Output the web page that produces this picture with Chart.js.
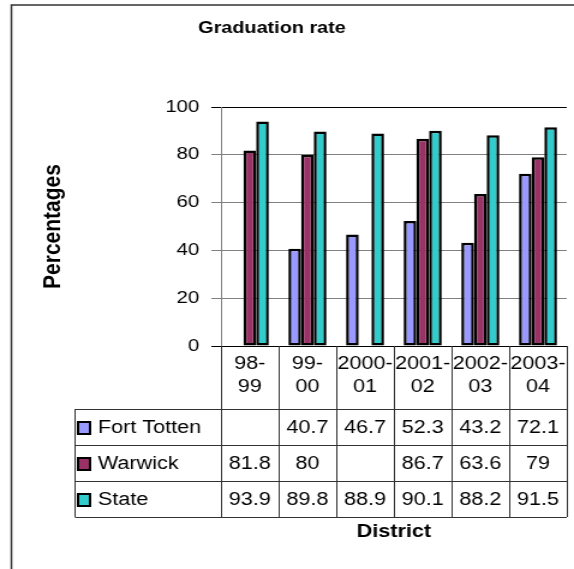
<!DOCTYPE html>
<html>
<head>
<meta charset="utf-8">
<script src="https://cdn.jsdelivr.net/npm/chart.js@4"></script>
<style>
  html, body { margin: 0; padding: 0; background: #fff; }
  #chart { display: block; }
</style>
</head>
<body>
<!-- the original picture is stretched sideways, so the canvas is too -->
<canvas id="chart" width="478" height="569" style="width:574px;height:569px"></canvas>
<script>
/***********************
 * DATA
 ***********************/
const categories = ["98-99", "99-00", "2000-01", "2001-02", "2002-03", "2003-04"];
const fortTotten = [null, 40.7, 46.7, 52.3, 43.2, 72.1];
const warwick = [81.8, 80, null, 86.7, 63.6, 79];
const state = [93.9, 89.8, 88.9, 90.1, 88.2, 91.5];
const yTicks = [0, 20, 40, 60, 80, 100];

const FONT = '"Liberation Sans", Arial, sans-serif';

/***********************
 * Data table under the plot
 ***********************/
function fmt(v) {
  return v === null || v === undefined ? "" : String(v);
}

function splitLabel(c) {
  const i = c.indexOf("-");
  return [c.slice(0, i + 1), c.slice(i + 1)];
}

const tablePlugin = {
  id: "dataTable",
  beforeDraw(chart) {
    const ctx = chart.ctx;
    ctx.save();
    ctx.strokeStyle = "#333";
    ctx.lineWidth = 1.5;
    ctx.strokeRect(9.5, 5, chart.width + 20, chart.height + 20);
    ctx.restore();
  },
  afterDraw(chart) {
    const ctx = chart.ctx;
    const x = chart.scales.x;
    const top = chart.chartArea.bottom;
    const cw = x.width / categories.length;
    const headH = 63, rowH = 36;
    const tableLeft = 62.5;
    const sets = chart.data.datasets;
    const bottom = top + headH + rowH * sets.length;

    ctx.save();

    // title
    ctx.fillStyle = "#000";
    ctx.font = "bold 16.5px " + FONT;
    ctx.textAlign = "center";
    ctx.textBaseline = "alphabetic";
    ctx.fillText("Graduation rate", 226.5, 33);

    // grid of the table
    ctx.strokeStyle = "#333";
    ctx.lineWidth = 1;
    ctx.beginPath();
    for (let i = 0; i <= categories.length; i++) {
      const px = Math.round(x.left + cw * i) + 0.5;
      ctx.moveTo(px, top);
      ctx.lineTo(px, bottom);
    }
    ctx.moveTo(tableLeft, top + headH);
    ctx.lineTo(tableLeft, bottom);
    for (let r = 0; r <= sets.length; r++) {
      const py = Math.round(top + headH + rowH * r) + 0.5;
      ctx.moveTo(tableLeft, py);
      ctx.lineTo(x.right, py);
    }
    ctx.stroke();

    // header labels
    ctx.font = "18px " + FONT;
    ctx.textBaseline = "middle";
    categories.forEach((c, i) => {
      const cx = x.getPixelForValue(i);
      const [a, b] = splitLabel(c);
      ctx.fillText(a, cx, top + 18);
      ctx.fillText(b, cx, top + 41);
    });

    // rows
    sets.forEach((ds, r) => {
      const cy = top + headH + rowH * r + rowH / 2 + 1;
      ctx.fillStyle = ds.backgroundColor;
      ctx.fillRect(65, cy - 6, 10, 12);
      ctx.strokeStyle = "#000";
      ctx.lineWidth = 2;
      ctx.strokeRect(65, cy - 6, 10, 12);

      ctx.fillStyle = "#000";
      ctx.textAlign = "left";
      ctx.fillText(ds.label, 81.5, cy);
      ctx.textAlign = "center";
      ds.data.forEach((v, i) => {
        ctx.fillText(fmt(v), x.getPixelForValue(i), cy);
      });
    });

    ctx.restore();
  },
};

/***********************
 * Chart
 ***********************/
function bars(label, values, color) {
  return {
    label,
    data: values,
    backgroundColor: color,
    borderColor: "#000",
    borderWidth: 2.5,
    borderSkipped: false,
    categoryPercentage: 0.66,
    barPercentage: 1,
  };
}

new Chart(document.getElementById("chart"), {
  type: "bar",
  data: {
    labels: categories,
    datasets: [
      bars("Fort Totten", fortTotten, "#9999FF"),
      bars("Warwick", warwick, "#993366"),
      bars("State", state, "#33CCCC"),
    ],
  },
  options: {
    responsive: false,
    animation: false,
    devicePixelRatio: 1,
    layout: { padding: { left: 32, top: 107, right: 6, bottom: 26 } },
    plugins: { legend: { display: false }, tooltip: { enabled: false } },
    scales: {
      y: {
        min: 0,
        max: 100,
        afterBuildTicks: (s) => { s.ticks = yTicks.map((v) => ({ value: v })); },
        afterFit: (s) => { s.width = 184 - 32; },
        ticks: { color: "#000", padding: 10, font: { family: FONT, size: 17 } },
        grid: {
          color: (c) => (c.tick && (c.tick.value === 100 || c.tick.value === 0) ? "#000" : "#808080"),
          tickLength: 8,
        },
        border: { color: "#808080" },
        title: {
          display: true,
          text: "Percentages",
          color: "#000",
          padding: 0,
          font: { family: FONT, size: 21, weight: "bold" },
        },
      },
      x: {
        afterFit: (s) => { s.height = 197; },
        ticks: { display: false },
        grid: { display: false },
        border: { color: "#000" },
        title: {
          display: true,
          text: "District",
          color: "#000",
          padding: 0,
          font: { family: FONT, size: 18, weight: "bold" },
        },
      },
    },
  },
  plugins: [tablePlugin],
});
</script>
</body>
</html>
